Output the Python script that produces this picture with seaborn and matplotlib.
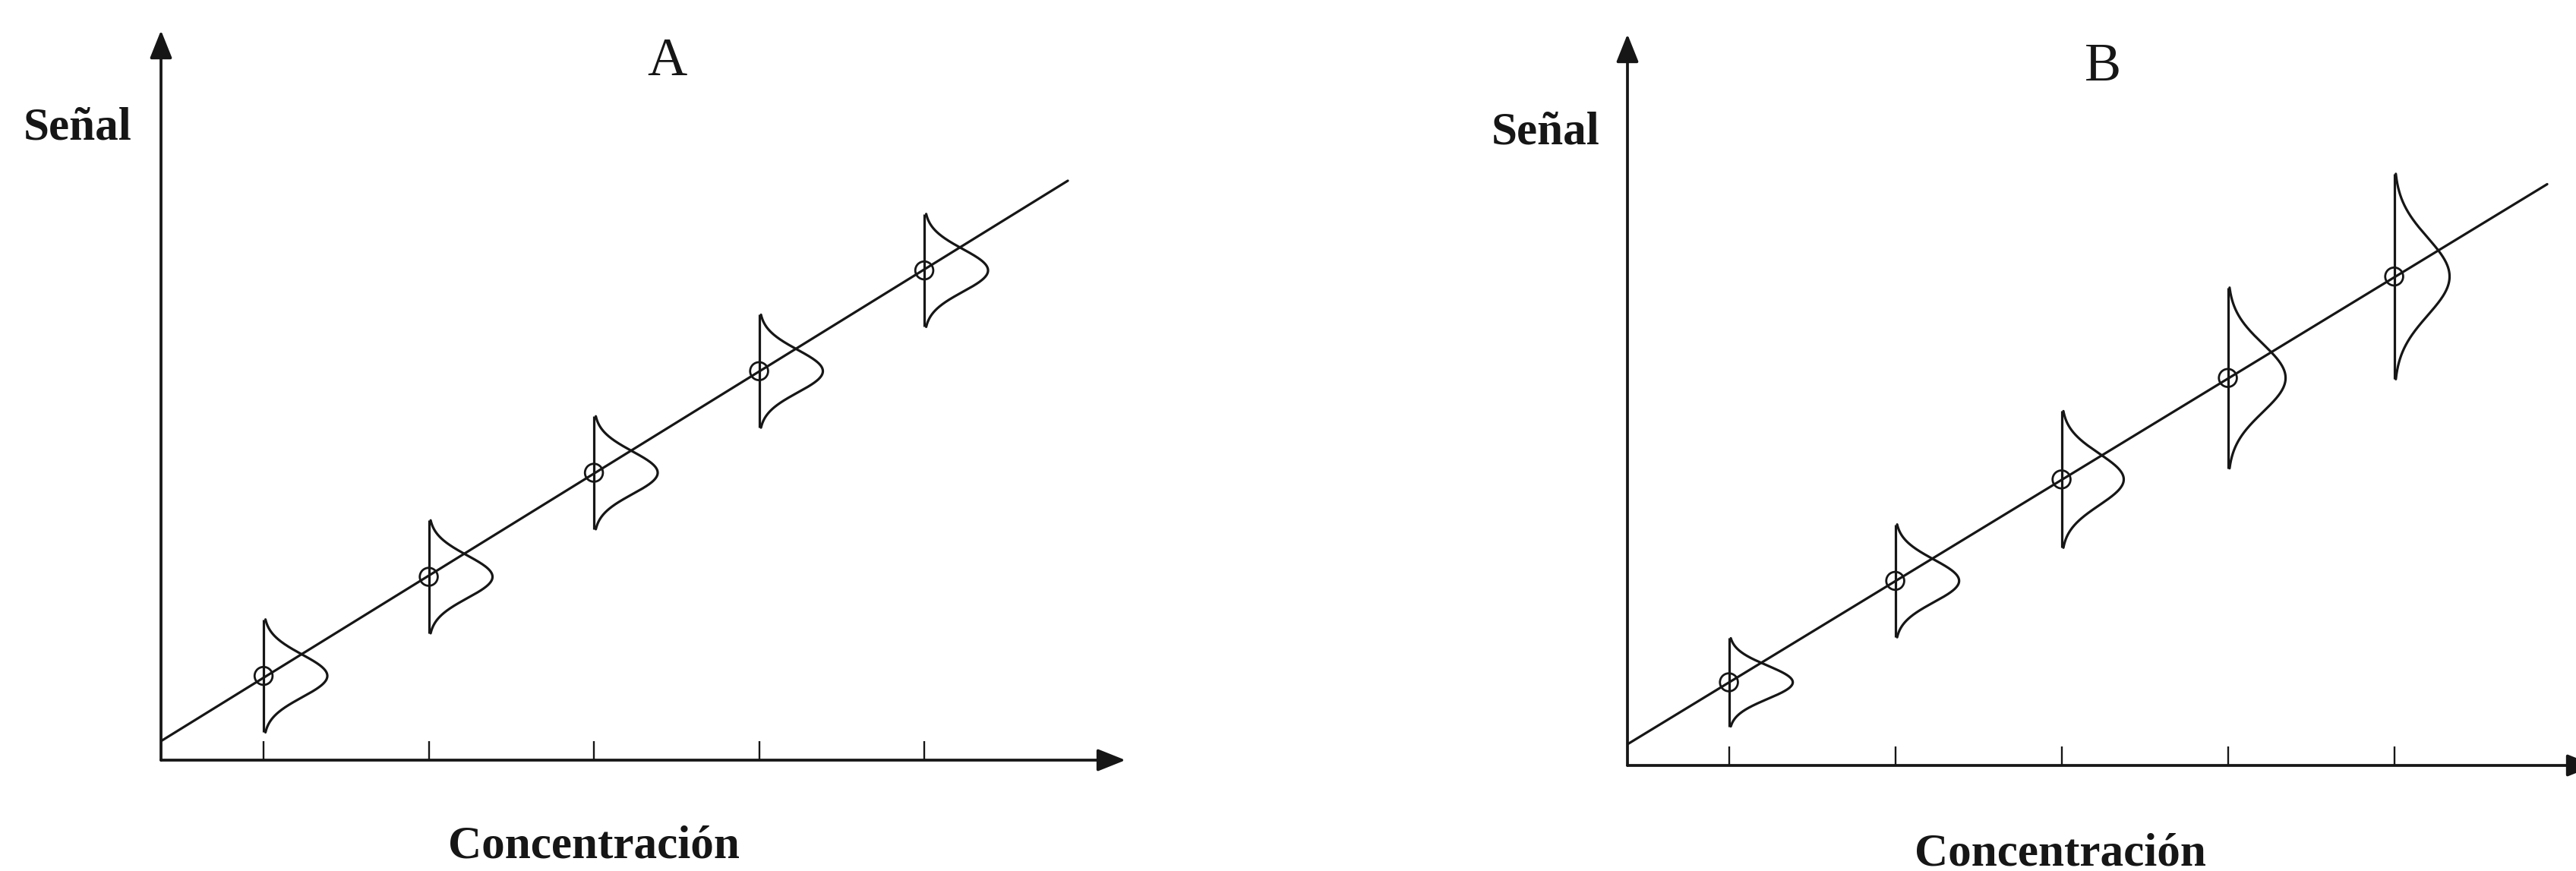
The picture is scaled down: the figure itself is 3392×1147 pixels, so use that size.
import numpy as np
import pandas as pd
import matplotlib
matplotlib.use("Agg")
import matplotlib.pyplot as plt
import seaborn as sns

# Calibration data: five standards, signal read on the fitted line
conc = [1, 2, 3, 4, 5]

# Panel A: constant spread (homoscedastic)
signal_a = [0.51, 1.11, 1.74, 2.355, 2.965]
sigma_a = [0.129, 0.129, 0.129, 0.129, 0.129]
peak_a = [0.386, 0.386, 0.386, 0.386, 0.386]
fit_a = (-0.119, 0.618)         # intercept, slope
span_a = (0.379, 5.869)         # concentration range of the drawn line

# Panel B: spread growing with concentration (heteroscedastic)
signal_b = [0.50, 1.11, 1.72, 2.33, 2.94]
sigma_b = [0.100, 0.128, 0.155, 0.205, 0.233]
peak_b = [0.384, 0.384, 0.374, 0.347, 0.333]
fit_b = (-0.11, 0.609)
span_b = (0.39, 5.92)

titles = ["A", "B"]
xlabel = "Concentración"
ylabel = "Señal"

sns.set_theme(style="white")
plt.rcParams["font.family"] = ["Liberation Serif", "DejaVu Serif"]

INK = "#161616"
W, H = 3392, 1147
fig = plt.figure(figsize=(W / 100, H / 100), dpi=100)
fig.patch.set_facecolor("white")


def panel(rect, unit, x0, signal, sigma, peak, fit, span):
    ax = fig.add_axes(rect)
    wpx, hpx = rect[2] * W, rect[3] * H
    ax.set_xlim(x0, x0 + wpx / unit)
    ax.set_ylim(0.0, hpx / unit)
    ax.set_facecolor("none")
    for s in ax.spines.values():
        s.set_visible(False)
    ax.set_xticks(conc)
    ax.set_yticks([])
    ax.tick_params(axis="x", direction="in", length=18, width=1.7,
                   color=INK, labelbottom=False, bottom=True)
    ax.grid(False)

    # axes drawn as arrows
    arrow = dict(arrowstyle="-|>,head_length=0.75,head_width=0.3",
                 mutation_scale=30, lw=2.7, color=INK,
                 shrinkA=0, shrinkB=0)
    ax.annotate("", xy=(1, 0), xytext=(0, 0), xycoords="axes fraction",
                arrowprops=arrow, annotation_clip=False)
    ax.annotate("", xy=(0, 1), xytext=(0, 0), xycoords="axes fraction",
                arrowprops=arrow, annotation_clip=False)

    # calibration line
    b0, b1 = fit
    xs = np.array(span)
    line = pd.DataFrame({"c": xs, "s": b0 + b1 * xs})
    sns.lineplot(data=line, x="c", y="s", ax=ax, color=INK, lw=2.3)

    # distribution of the signal at each standard
    for c, y0, sg, pk in zip(conc, signal, sigma, peak):
        h = 2.65 * sg
        yy = np.linspace(y0 - h, y0 + h, 300)
        xx = c + pk * np.exp(-0.5 * ((yy - y0) / sg) ** 2)
        ax.plot([c, c], [y0 - h, y0 + h], color=INK, lw=2.3,
                solid_capstyle="butt")
        ax.plot(xx, yy, color=INK, lw=2.3)

    pts = pd.DataFrame({"c": conc, "s": signal})
    sns.scatterplot(data=pts, x="c", y="s", ax=ax, s=290, marker="o",
                    facecolor="none", edgecolor=INK, linewidth=2.0,
                    zorder=5)
    ax.set_xlabel("")
    ax.set_ylabel("")
    return ax


panel([212 / W, (H - 1001) / H, 1270 / W, 961 / H], 217.5, 0.379,
      signal_a, sigma_a, peak_a, fit_a, span_a)
panel([2143 / W, (H - 1008) / H, 1274 / W, 963 / H], 219.0, 0.39,
      signal_b, sigma_b, peak_b, fit_b, span_b)


def put(x, y, s, **kw):
    fig.text(x / W, 1 - y / H, s, color=INK, ha="center", va="baseline", **kw)


put(878, 99, titles[0], fontsize=52)
put(2769, 106, titles[1], fontsize=52)
put(102, 183, ylabel, fontsize=44, fontweight="bold")
put(2035, 189, ylabel, fontsize=44, fontweight="bold")
put(782, 1129, xlabel, fontsize=44, fontweight="bold")
put(2713, 1140, xlabel, fontsize=44, fontweight="bold")

fig.savefig("out.png", dpi=100, facecolor="white")
